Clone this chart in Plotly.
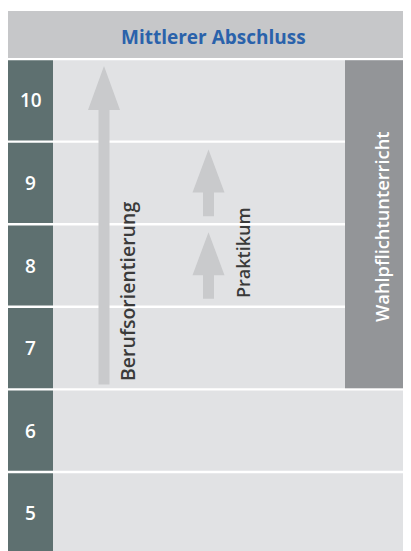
import plotly.graph_objects as go

# --- data ---
grades = [10, 9, 8, 7, 6, 5]
header_text = "Mittlerer Abschluss"
side_text = "Wahlpflichtunterricht"
side_span = [7, 10]          # grades covered by Wahlpflichtunterricht
long_arrow_label = "Berufsorientierung"
long_arrow_span = [7, 10]    # grades covered by Berufsorientierung
short_arrow_label = "Praktikum"
short_arrow_grades = [9, 8]  # grades with Praktikum

# --- styles ---
W, H = 411, 551
OFF = 8  # default page margin of the html body
ROW = 82.6
TOP_EDGE = 59.0  # pixel of boundary 10.5


def py(p):
    """reference pixel row -> grade-axis value"""
    return 10.5 - (p - TOP_EDGE) / ROW


C_LEFT = "#5e7070"
C_BODY = "#e1e2e4"
C_HEAD = "#c6c7c9"
C_SIDE = "#939598"
C_ARROW = "#c9cacc"
C_BLUE = "#2a62ab"
C_TEXT = "#3a3a3a"
FONT = "Open Sans"

fig = go.Figure()
shapes = []
annotations = []

# header
shapes.append(dict(type="rect", xref="x", yref="y", x0=8, x1=W + 5, y0=py(58), y1=py(11),
                   fillcolor=C_HEAD, line_width=0, layer="below"))
annotations.append(dict(x=213, y=py(37), xref="x", yref="y", text=header_text,
                        showarrow=False, font=dict(family=FONT, size=19, weight=700, color=C_BLUE)))

for g in grades:
    y0 = g - 0.5 + 1.2 / ROW
    y1 = g + 0.5 - 1.2 / ROW
    shapes.append(dict(type="rect", xref="x", yref="y", x0=53, x1=W + 5, y0=y0, y1=y1,
                       fillcolor=C_BODY, line_width=0, layer="below"))
    shapes.append(dict(type="rect", xref="x", yref="y", x0=8, x1=53, y0=y0, y1=y1,
                       fillcolor=C_LEFT, line_width=0, layer="below"))
    annotations.append(dict(x=30.5, y=g, xref="x", yref="y", text=str(g),
                            showarrow=False, font=dict(family=FONT, size=19, weight=600, color="white")))

# side box
shapes.append(dict(type="rect", xref="x", yref="y", x0=345, x1=W + 5,
                   y0=side_span[0] - 0.5 + 1.2 / ROW, y1=side_span[1] + 0.5 - 1.2 / ROW,
                   fillcolor=C_SIDE, line_width=0, layer="below"))
annotations.append(dict(x=381, y=py(227), xref="x", yref="y", text=side_text,
                        textangle=-90, showarrow=False,
                        font=dict(family=FONT, size=18.3, weight=600, color="white")))


def arrow(xc, ybot, ytop, shaft_w, head_w, head_len_px):
    yhead = ytop - head_len_px / ROW
    hw, sw = head_w / 2, shaft_w / 2
    pts = [(xc - sw, ybot), (xc - sw, yhead), (xc - hw, yhead), (xc, ytop),
           (xc + hw, yhead), (xc + sw, yhead), (xc + sw, ybot)]
    path = "M " + " L ".join("%.2f,%.4f" % p for p in pts) + " Z"
    return dict(type="path", xref="x", yref="y", path=path, fillcolor=C_ARROW,
                line_width=0, layer="below")


# long arrow (Berufsorientierung)
shapes.append(arrow(104, long_arrow_span[0] - 0.5 + 5 / ROW, long_arrow_span[1] + 0.5 - 7 / ROW,
                    11, 32, 44))
annotations.append(dict(x=127.5, y=py(291.5), xref="x", yref="y", text=long_arrow_label,
                        textangle=-90, showarrow=False,
                        font=dict(family=FONT, size=19.5, weight=600, color=C_TEXT)))

# short arrows (Praktikum)
for g in short_arrow_grades:
    shapes.append(arrow(208.5, g - 0.5 + 8 / ROW, g + 0.5 - 8 / ROW, 11, 32, 43))
annotations.append(dict(x=242.5, y=py(252.5), xref="x", yref="y", text=short_arrow_label,
                        textangle=-90, showarrow=False,
                        font=dict(family=FONT, size=18, weight=600, color=C_TEXT)))

fig.add_trace(go.Scatter(x=[OFF, W], y=[py(H), py(OFF)], mode="markers",
                         marker=dict(opacity=0), hoverinfo="skip", showlegend=False))

fig.update_layout(
    width=W - OFF, height=H - OFF, margin=dict(l=0, r=0, t=0, b=0),
    paper_bgcolor="white", plot_bgcolor="white",
    xaxis=dict(range=[OFF, W], visible=False, fixedrange=True),
    yaxis=dict(range=[py(H), py(OFF)], visible=False, fixedrange=True),
    shapes=shapes, annotations=annotations, showlegend=False,
)

fig.write_html("out.html")
